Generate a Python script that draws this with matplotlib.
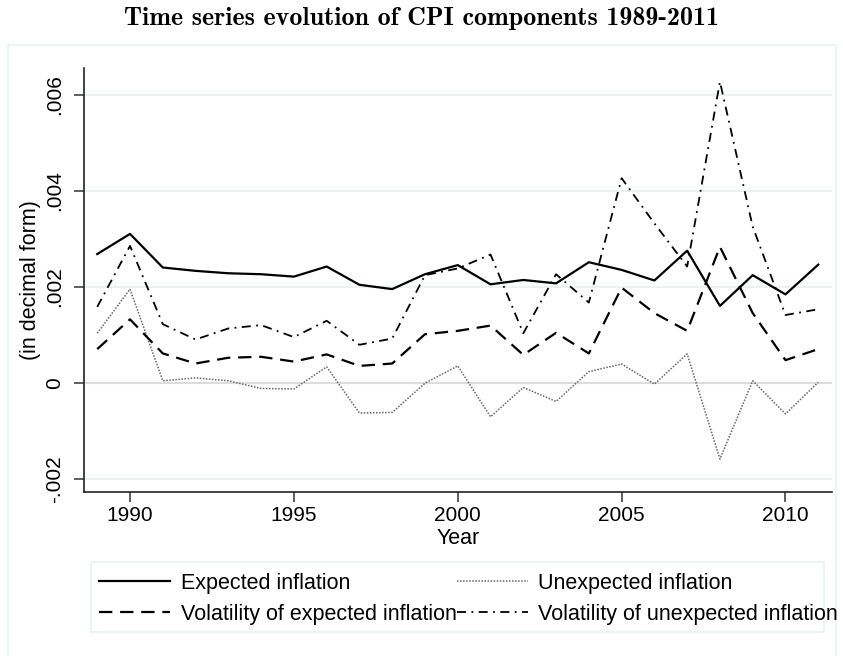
import matplotlib
matplotlib.use("Agg")
import matplotlib.pyplot as plt
from matplotlib.patches import Rectangle
from matplotlib.ticker import FixedLocator

# data
years = list(range(1989, 2012))
expected = [2.68, 3.10, 2.40, 2.33, 2.28, 2.26, 2.21, 2.42, 2.04, 1.95, 2.26, 2.45,
            2.05, 2.14, 2.07, 2.51, 2.35, 2.13, 2.75, 1.60, 2.24, 1.84, 2.46]
unexpected = [1.03, 1.95, 0.04, 0.10, 0.04, -0.12, -0.13, 0.33, -0.63, -0.62, -0.01, 0.35,
              -0.71, -0.10, -0.39, 0.23, 0.39, -0.03, 0.60, -1.59, 0.04, -0.65, 0.01]
vol_expected = [0.70, 1.32, 0.61, 0.40, 0.52, 0.54, 0.44, 0.59, 0.35, 0.40, 1.01, 1.08,
                1.19, 0.58, 1.04, 0.61, 1.98, 1.45, 1.08, 2.83, 1.45, 0.47, 0.70]
vol_unexpected = [1.58, 2.85, 1.22, 0.90, 1.13, 1.20, 0.95, 1.29, 0.79, 0.92, 2.24, 2.38,
                  2.67, 1.03, 2.26, 1.67, 4.26, 3.32, 2.42, 6.27, 3.25, 1.41, 1.53]
# values above are in thousandths
expected = [v / 1000 for v in expected]
unexpected = [v / 1000 for v in unexpected]
vol_expected = [v / 1000 for v in vol_expected]
vol_unexpected = [v / 1000 for v in vol_unexpected]

y_ticks = [-0.002, 0, 0.002, 0.004, 0.006]
y_tick_labels = ["-.002", "0", ".002", ".004", ".006"]
x_ticks = [1990, 1995, 2000, 2005, 2010]

plt.rcParams['font.family'] = ['Liberation Sans', 'DejaVu Sans']

fig = plt.figure(figsize=(8.43, 6.56), dpi=100)
fig.patch.set_facecolor('white')

# outer light frame
fig.patches.append(Rectangle((7.5 / 843, -0.05), (836 - 7.5) / 843, 1.05 - 45 / 656,
                             transform=fig.transFigure, fill=False,
                             edgecolor='#eaf2f3', linewidth=1.2))

ax = fig.add_axes([84 / 843, 1 - 492.3 / 656, (831.7 - 84) / 843, (492.3 - 68) / 656])

grid_color = '#eaf2f3'
for t in y_ticks:
    ax.axhline(t, color='#dcdcdc' if t == 0 else grid_color, linewidth=1.5, zorder=0)

l1, = ax.plot(years, expected, color='black', linewidth=1.6, linestyle='-')
l2, = ax.plot(years, unexpected, color='#666666', linewidth=1.1, linestyle=(0, (1, 1)))
l3, = ax.plot(years, vol_expected, color='black', linewidth=1.6, linestyle=(0, (6, 3.5)))
l4, = ax.plot(years, vol_unexpected, color='black', linewidth=1.3,
              linestyle=(0, (5, 3, 1, 3)))

ax.set_xlim(1988.596, 2011.41)
ax.set_ylim(-0.002283, 0.006556)
ax.xaxis.set_major_locator(FixedLocator(x_ticks))
ax.set_xticklabels([str(x) for x in x_ticks])
ax.yaxis.set_major_locator(FixedLocator(y_ticks))
ax.set_yticklabels(y_tick_labels, rotation=90, va='center')

for side in ['top', 'right']:
    ax.spines[side].set_visible(False)
for side in ['left', 'bottom']:
    ax.spines[side].set_linewidth(1.2)
    ax.spines[side].set_color('#222222')

ax.tick_params(axis='both', direction='out', length=7, width=1.1, color='#333333',
               labelsize=15)
ax.tick_params(axis='x', pad=3)
ax.tick_params(axis='y', pad=7)
ax.set_xlabel('Year', fontsize=15.5, labelpad=2)
ax.set_ylabel('(in decimal form)', fontsize=15.5, labelpad=3.5)

fig.text(0.5, 1 - 19 / 656, 'Time series evolution of CPI components 1989-2011',
         ha='center', va='center', fontsize=18.7, fontfamily='cmb10')

# legend box (text runs past the right edge as in the original)
fig.patches.append(Rectangle((91 / 843, 1 - 632 / 656), (824 - 91) / 843, 70 / 656,
                             transform=fig.transFigure, fill=False,
                             edgecolor='#eaf2f3', linewidth=1.2))
leg = fig.legend([l1, l3, l2, l4],
                 ['Expected inflation', 'Volatility of expected inflation',
                  'Unexpected inflation', 'Volatility of unexpected inflation'],
                 loc='upper left', bbox_to_anchor=(99 / 843, 1 - 573 / 656),
                 ncol=2, frameon=False, fontsize=15.5, handlelength=3.3,
                 handletextpad=0.5, columnspacing=0.0, labelspacing=0.45,
                 borderaxespad=0, borderpad=0)

fig.savefig('out.png', dpi=100)
